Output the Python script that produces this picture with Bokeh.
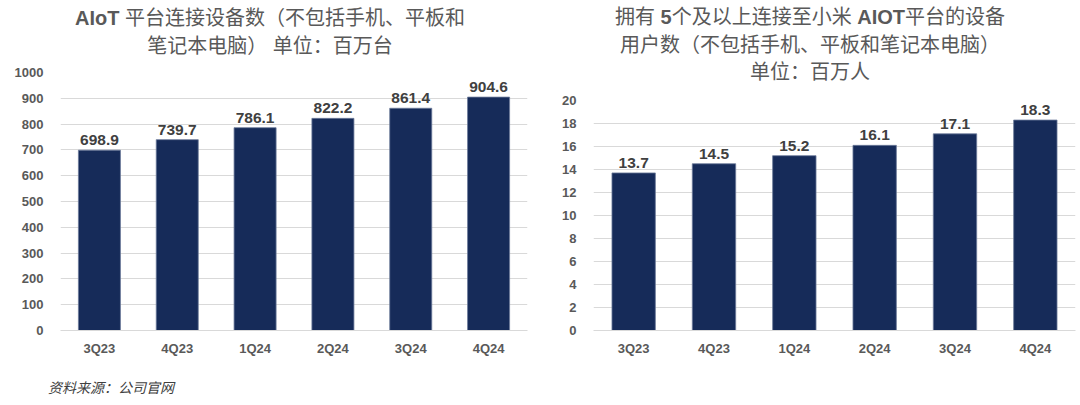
from bokeh.plotting import figure
from bokeh.models import (ColumnDataSource, FactorRange, Range1d, FixedTicker,
                          LabelSet, Div)
from bokeh.core.properties import value
from bokeh.layouts import row, column
from bokeh.embed import file_html
from bokeh.resources import INLINE

categories = ["3Q23", "4Q23", "1Q24", "2Q24", "3Q24", "4Q24"]
devices = [698.9, 739.7, 786.1, 822.2, 861.4, 904.6]
users = [13.7, 14.5, 15.2, 16.1, 17.1, 18.3]
device_ticks = [0, 100, 200, 300, 400, 500, 600, 700, 800, 900, 1000]
user_ticks = [0, 2, 4, 6, 8, 10, 12, 14, 16, 18, 20]

title_left = "<b style='font-family:Arial'>AIoT</b> 平台连接设备数（不包括手机、平板和<br>笔记本电脑） 单位：百万台"
title_right = ("拥有 <b style='font-family:Arial'>5</b>个及以上连接至小米 "
               "<b style='font-family:Arial'>AIOT</b>平台的设备<br>"
               "用户数（不包括手机、平板和笔记本电脑）<br>单位：百万人")
source_note = "资料来源：公司官网"

LATIN = "Arial"
BAR = "#162b59"


def make_chart(values, ticks, ymax, width, height, border_left, border_right):
    src = ColumnDataSource(dict(cat=categories, val=values,
                                lab=["{:.1f}".format(v) for v in values]))
    p = figure(x_range=FactorRange(*categories, range_padding=0),
               y_range=Range1d(0, ymax), width=width, height=height,
               output_backend="svg", toolbar_location=None,
               min_border_top=10, min_border_bottom=43,
               min_border_left=border_left, min_border_right=border_right)
    p.outline_line_color = None
    p.vbar(x="cat", top="val", width=0.54, source=src,
           fill_color=BAR, line_color="#6b7a99", line_width=0.8)
    p.add_layout(LabelSet(x="cat", y="val", text="lab", source=src,
                          text_align="center", text_baseline="bottom",
                          y_offset=5, text_font=value(LATIN), text_font_style="bold",
                          text_font_size="15.5px", text_color="#404040"))
    p.yaxis.ticker = FixedTicker(ticks=ticks)
    p.ygrid.ticker = FixedTicker(ticks=ticks)
    p.ygrid.grid_line_color = "#d9d9d9"
    p.xgrid.grid_line_color = None
    for ax in (p.xaxis[0], p.yaxis[0]):
        ax.major_tick_line_color = None
        ax.minor_tick_line_color = None
        ax.major_label_text_font = LATIN
        ax.major_label_text_font_style = "bold"
        ax.major_label_text_font_size = "13px"
        ax.major_label_text_color = "#595959"
    p.yaxis.axis_line_color = None
    p.xaxis.axis_line_color = "#d9d9d9"
    p.yaxis.major_label_standoff = 11
    p.xaxis.major_label_standoff = 4
    return p


p1 = make_chart(devices, device_ticks, 1000, 540, 311, 60, 13)
p2 = make_chart(users, user_ticks, 20, 540, 283, 53, 5)

style = ("text-align:center;font-family:Arial,'Noto Sans CJK SC';"
         "font-size:20px;color:#595959;position:relative;top:4px;")
d1 = Div(text="<div style=\"%sline-height:28px;width:540px\">%s</div>" % (style, title_left),
         width=540, height=62, margin=(0, 0, 0, 0))
d2 = Div(text="<div style=\"%sline-height:27.5px;width:540px\">%s</div>" % (style, title_right),
         width=540, height=90, margin=(0, 0, 0, 0))
foot = Div(text="<div style=\"font-family:'Noto Sans CJK SC';font-style:italic;"
                "font-size:14px;color:#404040;padding-left:48px;padding-top:5px;"
                "line-height:18px\">%s</div>" % source_note,
           width=400, height=28, margin=(0, 0, 0, 0))

layout = column(row(column(d1, p1, spacing=0), column(d2, p2, spacing=0), spacing=0),
                foot, spacing=0)

open("out.html", "w").write(file_html(layout, INLINE))
